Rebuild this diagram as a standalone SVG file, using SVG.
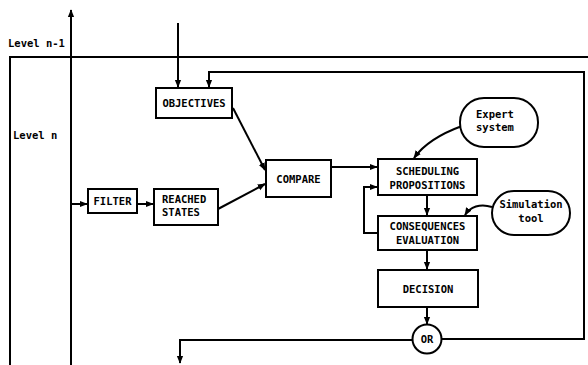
<svg xmlns="http://www.w3.org/2000/svg" width="588" height="365" viewBox="0 0 588 365">
<defs>
<style>
.ln{fill:none;stroke:#000;stroke-width:2}
.bx{fill:#fff;stroke:#000;stroke-width:2}
.t{font-family:"DejaVu Sans Mono","Liberation Mono",monospace;font-weight:bold;font-size:10.5px;fill:#000}
.c{text-anchor:middle}
</style>
<marker id="a" viewBox="0 0 10 10" refX="9" refY="5" markerWidth="4" markerHeight="4" orient="auto-start-reverse" markerUnits="strokeWidth">
<path d="M0,1 L10,5 L0,9 Z" fill="#000"/>
</marker>
</defs>
<g id="connectors">
<path class="ln" d="M71,365 V10" marker-end="url(#a)"/>
<path class="ln" d="M10,365 V57 H588"/>
<path class="ln" d="M178,23 V87" marker-end="url(#a)"/>
<path class="ln" d="M412,339 H584 V72 H209 V87" marker-end="url(#a)"/>
<path class="ln" d="M412,340 H180 V363" marker-end="url(#a)"/>
<path class="ln" d="M71,204 H87" marker-end="url(#a)"/>
<path class="ln" d="M137,204 H153" marker-end="url(#a)"/>
<path class="ln" d="M233,108 L265,170" marker-end="url(#a)"/>
<path class="ln" d="M218,209 L265,184" marker-end="url(#a)"/>
<path class="ln" d="M331,167 H377" marker-end="url(#a)"/>
<path class="ln" d="M378,233 H364 V187 H377" marker-end="url(#a)"/>
<path class="ln" d="M427,195 V215" marker-end="url(#a)"/>
<path class="ln" d="M427,250 V269" marker-end="url(#a)"/>
<path class="ln" d="M427,307 V324" marker-end="url(#a)"/>
<path class="ln" d="M462,126 C440,134 424,144 414,158" marker-end="url(#a)"/>
<path class="ln" d="M492,207 C480,203 470,207 465,215" marker-end="url(#a)"/>
</g>
<text class="t" x="8" y="47">Level n-1</text>
<text class="t" x="13" y="139">Level n</text>
<g id="objectives"><rect class="bx" x="156" y="88" width="76" height="30"/><text class="t c" x="194" y="107">OBJECTIVES</text></g>
<g id="filter"><rect class="bx" x="88" y="189" width="49" height="24"/><text class="t c" x="112.5" y="205">FILTER</text></g>
<g id="reached"><rect class="bx" x="154" y="189" width="64" height="36"/><text class="t" x="162" y="203">REACHED</text><text class="t" x="162" y="216">STATES</text></g>
<g id="compare"><rect class="bx" x="266" y="160" width="65" height="37"/><text class="t c" x="298.5" y="183">COMPARE</text></g>
<g id="scheduling"><rect class="bx" x="378" y="159" width="99" height="36"/><text class="t c" x="427.5" y="175">SCHEDULING</text><text class="t c" x="427.5" y="189">PROPOSITIONS</text></g>
<g id="consequences"><rect class="bx" x="378" y="216" width="99" height="34"/><text class="t c" x="427.5" y="230">CONSEQUENCES</text><text class="t c" x="427.5" y="244">EVALUATION</text></g>
<g id="decision"><rect class="bx" x="378" y="270" width="100" height="37"/><text class="t c" x="428" y="293">DECISION</text></g>
<g id="or"><circle class="bx" cx="427" cy="339" r="14.5"/><text class="t c" x="427" y="343">OR</text></g>
<g id="expert"><rect class="bx" x="460" y="98" width="78" height="49" rx="24" ry="24"/><text class="t" x="476" y="118">Expert</text><text class="t" x="476" y="131">system</text></g>
<g id="simulation"><rect class="bx" x="492" y="191" width="78" height="44" rx="22" ry="22"/><text class="t c" x="531" y="208">Simulation</text><text class="t c" x="531" y="222">tool</text></g>
</svg>
